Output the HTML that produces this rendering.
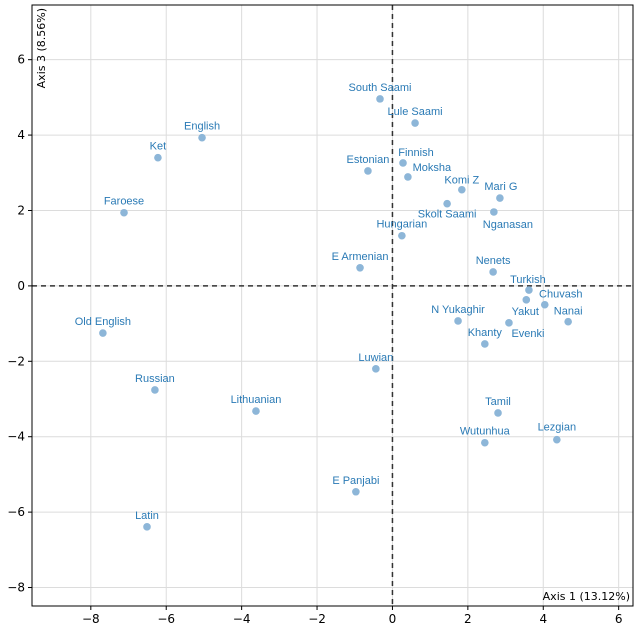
<!DOCTYPE html>
<html><head><meta charset="utf-8"><style>
body{margin:0;background:#fff;}
svg text{font-family:"DejaVu Sans","Liberation Sans",sans-serif;}
svg text.lab{font-family:"Liberation Sans",sans-serif;}
</style></head><body>
<svg id="chart" width="643" height="637" xmlns="http://www.w3.org/2000/svg">
<g id="grid"></g>
<g id="axes"></g>
<g id="marks"></g>
</svg>
<script>
const names=["South Saami","Lule Saami","English","Ket","Finnish","Estonian","Moksha","Komi Z","Mari G","Faroese","Skolt Saami","Nganasan","Hungarian","E Armenian","Nenets","Turkish","Yakut","Chuvash","Nanai","N Yukaghir","Evenki","Khanty","Old English","Luwian","Russian","Lithuanian","Tamil","Wutunhua","Lezgian","E Panjabi","Latin"];
const xVals=[-0.33,0.60,-5.05,-6.22,0.28,-0.65,0.41,1.84,2.85,-7.12,1.45,2.69,0.25,-0.86,2.67,3.62,3.55,4.04,4.66,1.74,3.09,2.45,-7.68,-0.44,-6.30,-3.62,2.80,2.45,4.36,-0.97,-6.51];
const yVals=[4.96,4.32,3.93,3.40,3.26,3.05,2.89,2.55,2.33,1.94,2.18,1.96,1.33,0.48,0.37,-0.11,-0.37,-0.50,-0.95,-0.93,-0.98,-1.54,-1.25,-2.20,-2.76,-3.32,-3.37,-4.16,-4.08,-5.46,-6.39];
// label offsets in px relative to point (layout only)
const labDx=[0,0,0,0,13,0,24,0,1,0,0,14,0,0,0,-1,-1,16,0,0,19,0,0,0,0,0,0,0,0,0,0];
const labDy=[-12,-12,-12,-12,-11,-12,-10,-10,-12,-12,10,12,-12,-12,-12,-11,11,-11,-11,-12,10,-12,-12,-12,-12,-12,-12,-12,-13,-12,-12];
const xTicks=[-8,-6,-4,-2,0,2,4,6];
const yTicks=[6,4,2,0,-2,-4,-6,-8];
const X0=32,X1=633,Y0=5,Y1=606;
const xMin=-9.56,xMax=6.38,yMin=-8.49,yMax=7.45;
const sx=v=>X0+(v-xMin)/(xMax-xMin)*(X1-X0);
const sy=v=>Y1-(v-yMin)/(yMax-yMin)*(Y1-Y0);
const NS="http://www.w3.org/2000/svg";
function mk(t,a,p){const e=document.createElementNS(NS,t);for(const k in a)e.setAttribute(k,a[k]);p.appendChild(e);return e;}
const grid=document.getElementById('grid'),axes=document.getElementById('axes'),marks=document.getElementById('marks');
xTicks.forEach(t=>{
  const l=mk('line',{x1:sx(t),x2:sx(t),y1:Y0,y2:Y1,stroke:'#dcdcdc','stroke-width':1},grid);
  
  
  const tk=mk('line',{x1:sx(t),x2:sx(t),y1:Y1,y2:Y1+4,stroke:'#000'},axes);
  
  
  const tx=mk('text',{x:sx(t),y:Y1+17,'text-anchor':'middle','font-size':12,fill:'#000'},axes);
  tx.textContent=t<0?'\u2212'+(-t):String(t);
  
  
});
yTicks.forEach(t=>{
  const l=mk('line',{x1:X0,x2:X1,y1:sy(t),y2:sy(t),stroke:'#dcdcdc','stroke-width':1},grid);
  
  
  const tk=mk('line',{x1:X0-4,x2:X0,y1:sy(t),y2:sy(t),stroke:'#000'},axes);
  
  
  const tx=mk('text',{x:X0-7,y:sy(t)+4,'text-anchor':'end','font-size':12,fill:'#000'},axes);
  tx.textContent=t<0?'\u2212'+(-t):String(t);
  
  
});
const h0=mk('line',{x1:X0,x2:X1,y1:sy(0),y2:sy(0),stroke:'#333','stroke-width':1.5,'stroke-dasharray':'5,4'},axes);


const v0=mk('line',{x1:sx(0),x2:sx(0),y1:Y0,y2:Y1,stroke:'#333','stroke-width':1.5,'stroke-dasharray':'5,4'},axes);


const fr=mk('rect',{x:X0,y:Y0,width:X1-X0,height:Y1-Y0,fill:'none',stroke:'#000','stroke-width':1},axes);


const xt=mk('text',{x:X1-3,y:Y1-6,'text-anchor':'end','font-size':11,fill:'#000'},axes);
xt.textContent='Axis 1 (13.12%)';


const yt=mk('text',{x:0,y:0,'text-anchor':'end','font-size':11,fill:'#000',transform:`translate(${X0+13},${Y0+3}) rotate(-90)`},axes);
yt.textContent='Axis 3 (8.56%)';


names.forEach((n,i)=>{
  const cx=sx(xVals[i]),cy=sy(yVals[i]);
  const c=mk('circle',{cx:cx,cy:cy,r:3.8,fill:'#8db6d8'},marks);
  
  
  const t=mk('text',{class:'lab',x:cx+labDx[i],y:cy+labDy[i]+4,'text-anchor':'middle','font-size':11,fill:'#2a7ab5'},marks);
  t.textContent=n;
  
  
});
</script>
</body></html>
